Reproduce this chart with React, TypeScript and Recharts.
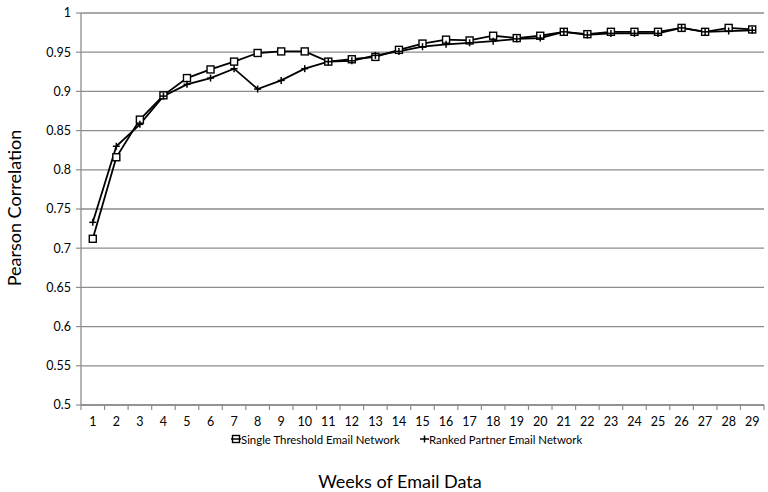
import React from 'react';
import { LineChart, Line, XAxis, YAxis, CartesianGrid } from 'recharts';

const weeks = ['1','2','3','4','5','6','7','8','9','10','11','12','13','14','15','16','17','18','19','20','21','22','23','24','25','26','27','28','29'];
const singleThreshold = [0.712,0.816,0.864,0.895,0.917,0.928,0.938,0.949,0.951,0.951,0.938,0.941,0.944,0.953,0.961,0.966,0.965,0.971,0.968,0.971,0.976,0.973,0.976,0.976,0.976,0.981,0.976,0.981,0.979];
const rankedPartner = [0.733,0.830,0.858,0.894,0.909,0.917,0.929,0.903,0.914,0.929,0.938,0.939,0.946,0.951,0.957,0.960,0.962,0.964,0.967,0.968,0.976,0.972,0.974,0.974,0.974,0.981,0.976,0.977,0.978];
const yTicks = [0.5,0.55,0.6,0.65,0.7,0.75,0.8,0.85,0.9,0.95,1];
const seriesNames = ['Single Threshold Email Network','Ranked Partner Email Network'];
const xTitle = 'Weeks of Email Data';
const yTitle = 'Pearson Correlation';

const data = weeks.map((w, i) => ({ week: w, single: singleThreshold[i], ranked: rankedPartner[i] }));

const W = 768;
const H = 492;
const FONT = 'Lato, "Open Sans", sans-serif';
const GRID = '#8c8c8c';
const margin = { top: 13, right: 4, left: 0, bottom: 57 };
const yAxisWidth = 81;
const plotW = W - margin.left - margin.right - yAxisWidth;
const half = plotW / weeks.length / 2;

const SquareDot = (props: any) => {
  const { cx, cy, index } = props;
  if (cx == null || cy == null) return <g key={`s${index}`} />;
  return <rect key={`s${index}`} x={cx - 3.5} y={cy - 3.5} width={7} height={7} fill="#fff" stroke="#000" strokeWidth={1.4} />;
};

const PlusDot = (props: any) => {
  const { cx, cy, index } = props;
  if (cx == null || cy == null) return <g key={`p${index}`} />;
  return (
    <g key={`p${index}`}>
      <line x1={cx - 3.5} y1={cy} x2={cx + 3.5} y2={cy} stroke="#000" strokeWidth={1.5} />
      <line x1={cx} y1={cy - 3.5} x2={cx} y2={cy + 3.5} stroke="#000" strokeWidth={1.5} />
    </g>
  );
};

const XTick = (props: any) => {
  const { x, y, payload, index } = props;
  const last = index === weeks.length - 1;
  return (
    <g>
      <line x1={x - half} y1={y} x2={x - half} y2={y + 5} stroke={GRID} strokeWidth={1.2} />
      {last && <line x1={x + half} y1={y} x2={x + half} y2={y + 5} stroke={GRID} strokeWidth={1.2} />}
      <text x={x} y={y + 21} textAnchor="middle" fontSize={12.5} fontFamily={FONT} fill="#000">{payload.value}</text>
    </g>
  );
};

const legendStyle: React.CSSProperties = {
  position: 'absolute', top: 430, height: 18, display: 'flex', alignItems: 'center',
  fontFamily: FONT, fontSize: 11.4, color: '#000', whiteSpace: 'nowrap',
};

export default function App() {
  return (
    <div style={{ position: 'absolute', left: 0, top: 0, width: W, height: H, background: '#fff' }}>
      <LineChart width={W} height={H} data={data} margin={margin}>
        <CartesianGrid vertical={false} stroke={GRID} strokeWidth={1.3} />
        <XAxis
          dataKey="week"
          padding={{ left: half, right: half }}
          axisLine={{ stroke: GRID, strokeWidth: 1.3 }}
          tickLine={false}
          tickSize={0}
          tickMargin={0}
          height={30}
          interval={0}
          tick={<XTick />}
          label={{
            content: () => (
              <text x={400} y={488} textAnchor="middle" fontSize={18} fontFamily={FONT} fill="#000">{xTitle}</text>
            ),
          }}
        />
        <YAxis
          width={yAxisWidth}
          domain={[0.5, 1]}
          ticks={yTicks}
          interval={0}
          axisLine={{ stroke: GRID, strokeWidth: 1.3 }}
          tickLine={{ stroke: GRID, strokeWidth: 1.2 }}
          tickSize={5}
          tickMargin={5}
          tick={{ fontSize: 12.5, fontFamily: FONT, fill: '#000' }}
          tickFormatter={(v: number) => String(v)}
          label={{
            content: () => (
              <text transform="translate(21,208) rotate(-90)" textAnchor="middle" fontSize={18} fontFamily={FONT} fill="#000">{yTitle}</text>
            ),
          }}
        />
        <Line type="linear" dataKey="single" stroke="#000" strokeWidth={1.8} dot={SquareDot} activeDot={false} isAnimationActive={false} />
        <Line type="linear" dataKey="ranked" stroke="#000" strokeWidth={1.8} dot={PlusDot} activeDot={false} isAnimationActive={false} />
      </LineChart>
      <div style={{ ...legendStyle, left: 231 }}>
        <svg width={10} height={10} style={{ marginRight: 0 }}>
          <line x1={0} y1={5} x2={10} y2={5} stroke="#000" strokeWidth={1.5} />
          <rect x={1.5} y={1.5} width={7} height={7} fill="#fff" stroke="#000" strokeWidth={1.4} />
          <line x1={1.5} y1={5} x2={8.5} y2={5} stroke="#000" strokeWidth={1.5} />
        </svg>
        <span>{seriesNames[0]}</span>
      </div>
      <div style={{ ...legendStyle, left: 420 }}>
        <svg width={9} height={10} style={{ marginRight: 0 }}>
          <line x1={0} y1={5} x2={9} y2={5} stroke="#000" strokeWidth={1.5} />
          <line x1={4.5} y1={1.5} x2={4.5} y2={8.5} stroke="#000" strokeWidth={1.5} />
        </svg>
        <span>{seriesNames[1]}</span>
      </div>
    </div>
  );
}
